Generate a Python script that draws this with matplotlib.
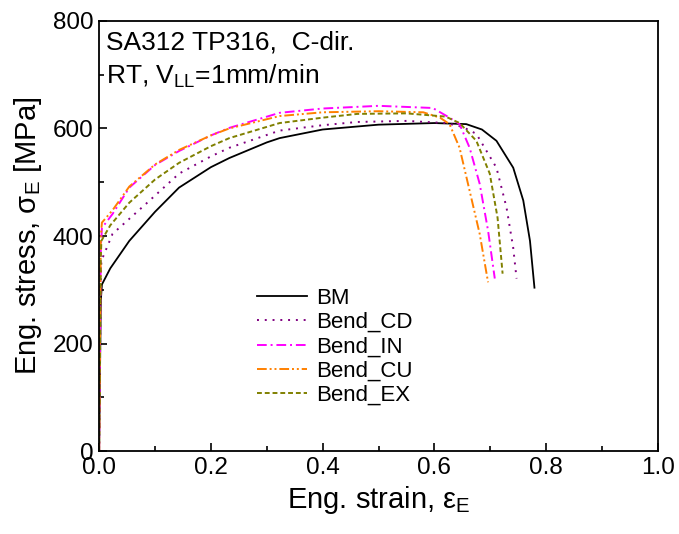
import matplotlib
matplotlib.use('Agg')
import matplotlib.pyplot as plt

plt.rcParams['font.family'] = ['Liberation Sans', 'DejaVu Sans']
plt.rcParams['mathtext.fontset'] = 'custom'
plt.rcParams['mathtext.rm'] = 'Liberation Sans'

# strain / stress
bm_x = [0, 0.003, 0.005, 0.02, 0.054, 0.1, 0.143, 0.2, 0.233, 0.3, 0.323, 0.4, 0.5, 0.6,
        0.657, 0.685, 0.711, 0.741, 0.759, 0.771, 0.779]
bm_y = [0, 280, 310, 340, 391, 445, 490, 528, 545, 574, 582, 598, 607, 610,
        608, 598, 577, 527, 466, 391, 304]

cd_x = [0, 0.003, 0.004, 0.024, 0.084, 0.143, 0.2, 0.233, 0.323, 0.4, 0.462, 0.55, 0.62,
        0.65, 0.675, 0.711, 0.729, 0.741, 0.747]
cd_y = [0, 320, 354, 404, 460, 516, 548, 564, 596, 606, 612, 614, 610,
        603, 590, 527, 453, 378, 321]

in_x = [0, 0.003, 0.005, 0.024, 0.054, 0.1, 0.143, 0.2, 0.233, 0.323, 0.4, 0.5, 0.597,
        0.627, 0.645, 0.663, 0.681, 0.696, 0.708]
in_y = [0, 380, 415, 441, 490, 532, 558, 587, 601, 629, 637, 642, 638,
        620, 608, 564, 497, 410, 321]

cu_x = [0, 0.003, 0.005, 0.024, 0.054, 0.1, 0.143, 0.2, 0.233, 0.323, 0.4, 0.5, 0.58,
        0.61, 0.627, 0.645, 0.663, 0.681, 0.696]
cu_y = [0, 400, 425, 448, 492, 533, 560, 587, 600, 623, 630, 632, 630,
        620, 608, 564, 484, 404, 314]

ex_x = [0, 0.003, 0.004, 0.02, 0.054, 0.1, 0.143, 0.2, 0.233, 0.323, 0.4, 0.462, 0.55,
        0.62, 0.645, 0.675, 0.699, 0.713, 0.722]
ex_y = [0, 360, 391, 420, 462, 505, 536, 567, 582, 610, 620, 627, 628,
        622, 610, 577, 516, 434, 330]

fig = plt.figure(figsize=(6.79, 5.34), dpi=100)
ax = fig.add_axes([0.146, 0.155, 0.823, 0.806])

ax.plot(bm_x, bm_y, color='black', lw=1.3, label='BM')
ax.plot(cd_x, cd_y, color='#800080', lw=1.4, ls=(0, (1, 3)), label='Bend_CD')
ax.plot(in_x, in_y, color='#ff00ff', lw=1.4, ls=(0, (5, 2, 1, 2)), label='Bend_IN')
ax.plot(cu_x, cu_y, color='#ff8000', lw=1.4, ls=(0, (5, 1.5, 1, 1.5, 1, 1.5)), label='Bend_CU')
ax.plot(ex_x, ex_y, color='#808000', lw=1.4, ls=(0, (2.5, 1.5)), label='Bend_EX')

ax.set_xlim(0, 1.0)
ax.set_ylim(0, 800)
ax.set_xticks([0, 0.2, 0.4, 0.6, 0.8, 1.0])
ax.set_xticks([0.1, 0.3, 0.5, 0.7, 0.9], minor=True)
ax.set_yticks([0, 200, 400, 600, 800])
ax.set_yticks([100, 300, 500, 700], minor=True)
ax.xaxis.set_major_formatter(matplotlib.ticker.FormatStrFormatter('%.1f'))
ax.tick_params(which='both', direction='in', labelsize=17.5, width=1.2, pad=4)
ax.tick_params(which='major', length=6)
ax.tick_params(which='minor', length=3.5)
for s in ax.spines.values():
    s.set_linewidth(1.3)

ax.set_xlabel('Eng. strain, ε$_\\mathregular{E}$', fontsize=21, labelpad=4)
ax.set_ylabel('Eng. stress, σ$_\\mathregular{E}$ [MPa]', fontsize=21, labelpad=6)

ax.text(0.0125, 0.934, 'SA312 TP316,  C-dir.', transform=ax.transAxes,
        fontsize=19, va='baseline', ha='left')
ax.text(0.0125, 0.855, 'RT, V$_\\mathregular{LL}$=1mm/min', transform=ax.transAxes,
        fontsize=19, va='baseline', ha='left')

ax.legend(loc='upper left', bbox_to_anchor=(0.283, 0.38), frameon=False, fontsize=16,
          handlelength=2.25, handletextpad=0.4, labelspacing=0.15, borderpad=0,
          borderaxespad=0)

fig.savefig('out.png', dpi=100)
